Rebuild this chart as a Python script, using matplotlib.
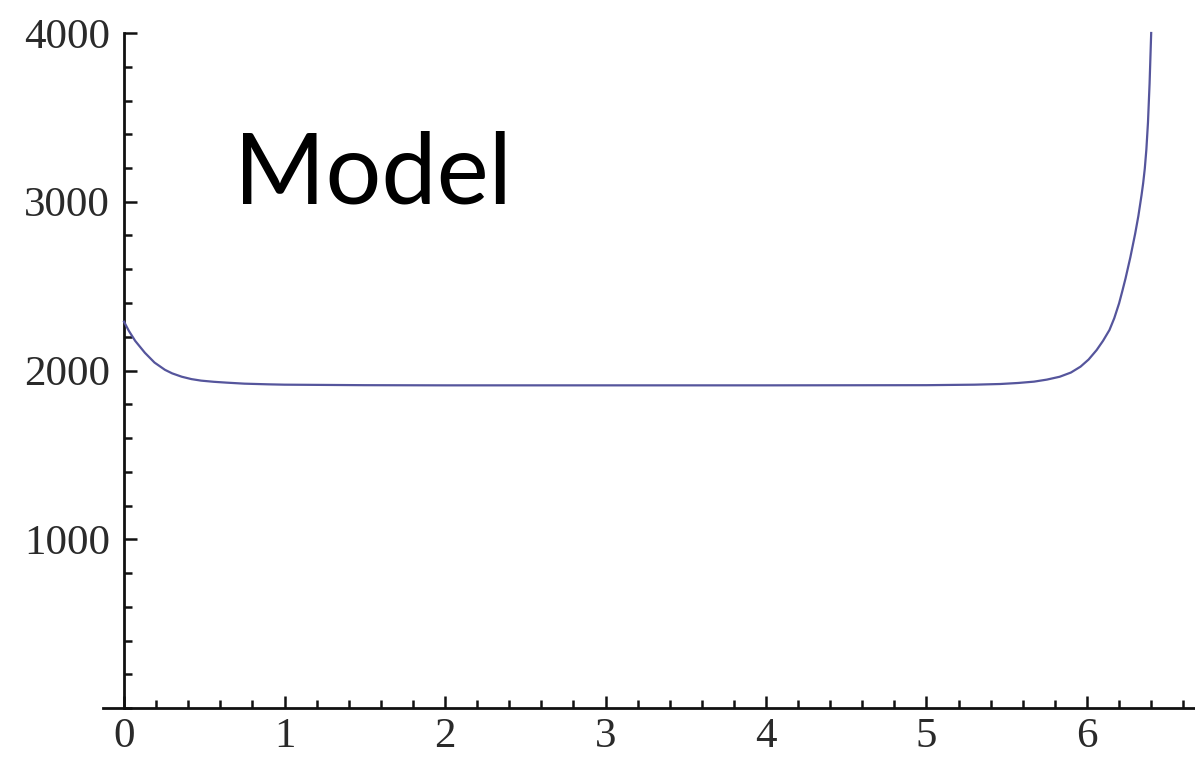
import matplotlib
matplotlib.use("Agg")
import matplotlib.pyplot as plt
from matplotlib.ticker import MultipleLocator, FixedLocator

# Sampled model curve
x_vals = [0.0, 0.03, 0.07, 0.13, 0.19, 0.255, 0.3, 0.36, 0.42, 0.48, 0.56, 0.64,
          0.75, 0.9, 1.0, 1.5, 2.0, 3.0, 4.0, 5.0, 5.3, 5.46, 5.57, 5.67, 5.75,
          5.83, 5.9, 5.96, 6.01, 6.06, 6.10, 6.14, 6.17, 6.20, 6.22, 6.24, 6.27,
          6.30, 6.32, 6.34, 6.35, 6.36, 6.37, 6.38, 6.39, 6.40]
y_vals = [2289, 2235, 2175, 2105, 2047, 2004, 1983, 1963, 1949, 1940, 1933, 1928,
          1922, 1918, 1916, 1913, 1912, 1912, 1912, 1913, 1916, 1920, 1926, 1934, 1946,
          1963, 1988, 2023, 2065, 2121, 2176, 2240, 2310, 2398, 2470, 2545, 2670,
          2810, 2915, 3040, 3110, 3195, 3310, 3470, 3700, 4000]

x_major = [0, 1, 2, 3, 4, 5, 6]
y_major = [1000, 2000, 3000, 4000]

fig = plt.figure(figsize=(11.95, 7.58), dpi=100)
ax = fig.add_axes([103 / 1195, 50 / 758, 1092 / 1195, 675 / 758])

ax.plot(x_vals, y_vals, color="#55559c", lw=1.6, clip_on=False, zorder=3,
        solid_joinstyle="round")

ax.set_xlim(-0.131, 6.673)
ax.set_ylim(0, 4000)

for s in ("top", "right"):
    ax.spines[s].set_visible(False)
ax.spines["left"].set_position(("data", 0))
for s in ("left", "bottom"):
    ax.spines[s].set_linewidth(2.0)
    ax.spines[s].set_color("#111111")

ax.xaxis.set_major_locator(FixedLocator(x_major))
ax.xaxis.set_minor_locator(MultipleLocator(0.2))
ax.yaxis.set_major_locator(FixedLocator(y_major))
ax.yaxis.set_minor_locator(MultipleLocator(200))

ax.tick_params(which="both", direction="in", color="#111111", width=1.8)
ax.tick_params(which="major", length=9)
ax.tick_params(which="minor", length=5.5)
ax.tick_params(axis="x", which="major", pad=7)
ax.tick_params(axis="y", which="major", pad=10)

for lab in ax.get_xticklabels() + ax.get_yticklabels():
    lab.set_fontfamily("Liberation Serif")
    lab.set_fontsize(31)
    lab.set_color("#2a2a2a")

fig.text(234 / 1195, 1 - 203 / 758, "Model", fontsize=71, family="Lato",
         color="black", ha="left", va="baseline")

fig.savefig("out.png", dpi=100, facecolor="white")
